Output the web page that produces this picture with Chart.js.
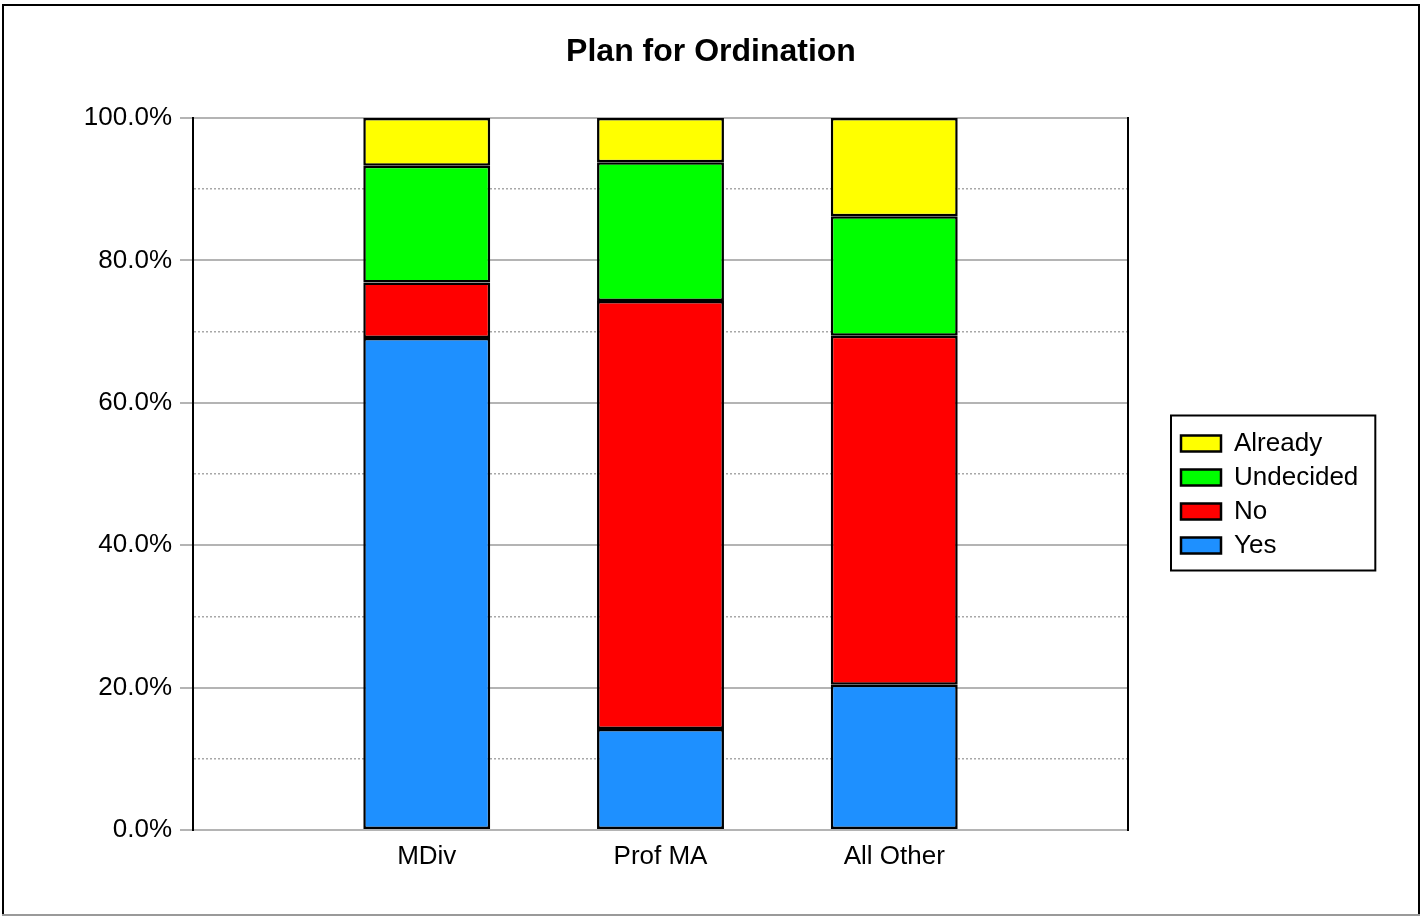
<!DOCTYPE html>
<html>
<head>
<meta charset="utf-8">
<script src="https://cdn.jsdelivr.net/npm/chart.js@4/dist/chart.umd.min.js"></script>
<style>
  html, body { margin: 0; padding: 0; background: #fff; overflow: hidden; }
  #wrap { position: relative; width: 1422px; height: 916px; }
</style>
</head>
<body>
<div id="wrap"><canvas id="c"></canvas></div>
<script>
// ---- data ----
const categories = ['MDiv', 'Prof MA', 'All Other'];
const seriesNames = ['Yes', 'No', 'Undecided', 'Already'];
const yesValues = [69.1, 14.2, 20.4];
const noValues = [7.8, 60.1, 49.0];
const undecidedValues = [16.4, 19.5, 16.8];
const alreadyValues = [6.7, 6.2, 13.8];
const yMajorStep = 20;
const yMinorStep = 10;

// ---- styles ----
const seriesColors = ['#1E90FF', '#FF0000', '#00FF00', '#FFFF00'];
const FONT = '"Liberation Sans", Arial, Helvetica, sans-serif';
Chart.defaults.font.family = FONT;
Chart.defaults.color = '#000';

// padded category axis: empty slot on both sides
const labels = [''].concat(categories, ['']);
const pad = arr => [null].concat(arr, [null]);
const seriesValues = [yesValues, noValues, undecidedValues, alreadyValues];

const datasets = seriesNames.map((name, i) => ({
  label: name,
  data: pad(seriesValues[i]),
  backgroundColor: seriesColors[i],
  borderColor: '#000',
  borderWidth: 2.5,
  inflateAmount: 0,
  borderSkipped: false,
  categoryPercentage: 1.0,
  barPercentage: 0.543
}));

const LEGEND_W = 249;
const layoutFix = {
  id: 'layoutFix',
  beforeLayout(chart) {
    const lg = chart.legend;
    if (lg && !lg._patched) {
      const orig = lg.fit.bind(lg);
      lg.fit = function () { orig(); this.width = LEGEND_W; };
      lg._patched = true;
    }
  },
  afterLayout(chart) {
    const lg = chart.legend;
    if (lg) { lg.top = 121; lg.bottom = 868; lg.height = 747; }
  },
  afterDraw(chart) {
    const ctx = chart.ctx;
    ctx.save();
    // legend frame
    const hb = chart.legend && chart.legend.legendHitBoxes;
    if (hb && hb.length) {
      let l = Infinity, t = Infinity, r = -Infinity, b = -Infinity;
      hb.forEach(h => {
        l = Math.min(l, h.left); t = Math.min(t, h.top);
        r = Math.max(r, h.left + h.width); b = Math.max(b, h.top + h.height);
      });
      ctx.lineWidth = 2;
      ctx.strokeStyle = '#000';
      ctx.strokeRect(l - 10, t - 15, (r + 17) - (l - 10), (b + 12) - (t - 15));
    }
    // outer frame
    ctx.lineWidth = 2;
    ctx.strokeStyle = '#000';
    ctx.beginPath();
    ctx.moveTo(3, 914); ctx.lineTo(3, 5); ctx.lineTo(1419, 5); ctx.lineTo(1419, 914);
    ctx.stroke();
    ctx.strokeStyle = '#9a9a9a';
    ctx.beginPath(); ctx.moveTo(2, 915); ctx.lineTo(1420, 915); ctx.stroke();
    ctx.restore();
  }
};

new Chart(document.getElementById('c'), {
  type: 'bar',
  data: { labels, datasets },
  options: {
    responsive: true,
    maintainAspectRatio: false,
    animation: false,
    layout: { padding: { left: 0, right: 0, top: 0, bottom: 48 } },
    plugins: {
      title: {
        display: true,
        text: 'Plan for Ordination',
        font: { size: 32, weight: 'bold', family: FONT, lineHeight: 1.2 },
        color: '#000',
        padding: { top: 33, bottom: 46.6 }
      },
      legend: {
        display: true,
        position: 'right',
        reverse: true,
        labels: {
          font: { size: 26, family: FONT },
          color: '#000',
          boxWidth: 40,
          boxHeight: 16,
          padding: 8
        }
      },
      tooltip: { enabled: false }
    },
    scales: {
      x: {
        stacked: true,
        offset: false,
        grid: { display: false, drawTicks: false },
        border: { display: false },
        ticks: { font: { size: 26 }, color: '#000', padding: 11, autoSkip: false, maxRotation: 0 },
        afterFit: s => { s.height = 38; }
      },
      y: {
        stacked: true,
        min: 0,
        max: 100,
        ticks: {
          stepSize: yMinorStep,
          autoSkip: false,
          font: { size: 26 },
          color: '#000',
          padding: 8,
          callback: v => (v % yMajorStep === 0 ? v.toFixed(1) + '%' : '')
        },
        grid: {
          color: c => (c.tick && c.tick.value % yMajorStep !== 0 ? '#a8a8a8' : '#b4b4b4'),
          lineWidth: c => (c.tick && c.tick.value % yMajorStep !== 0 ? 1.5 : 2),
          tickLength: 13,
          tickWidth: 2,
          tickColor: c => (c.tick && c.tick.value % yMajorStep !== 0 ? 'rgba(0,0,0,0)' : '#b4b4b4')
        },
        border: {
          display: true,
          color: '#000',
          width: 2,
          dash: c => (c.tick && c.tick.value % yMajorStep !== 0 ? [2, 2] : [])
        },
        afterFit: s => { s.width = 193; }
      },
      y2: {
        position: 'right',
        min: 0,
        max: 100,
        ticks: { display: false },
        grid: { drawOnChartArea: false, drawTicks: false },
        border: { display: true, color: '#000', width: 2 },
        afterFit: s => { s.width = 45; }
      }
    }
  },
  plugins: [layoutFix]
});
</script>
</body>
</html>
